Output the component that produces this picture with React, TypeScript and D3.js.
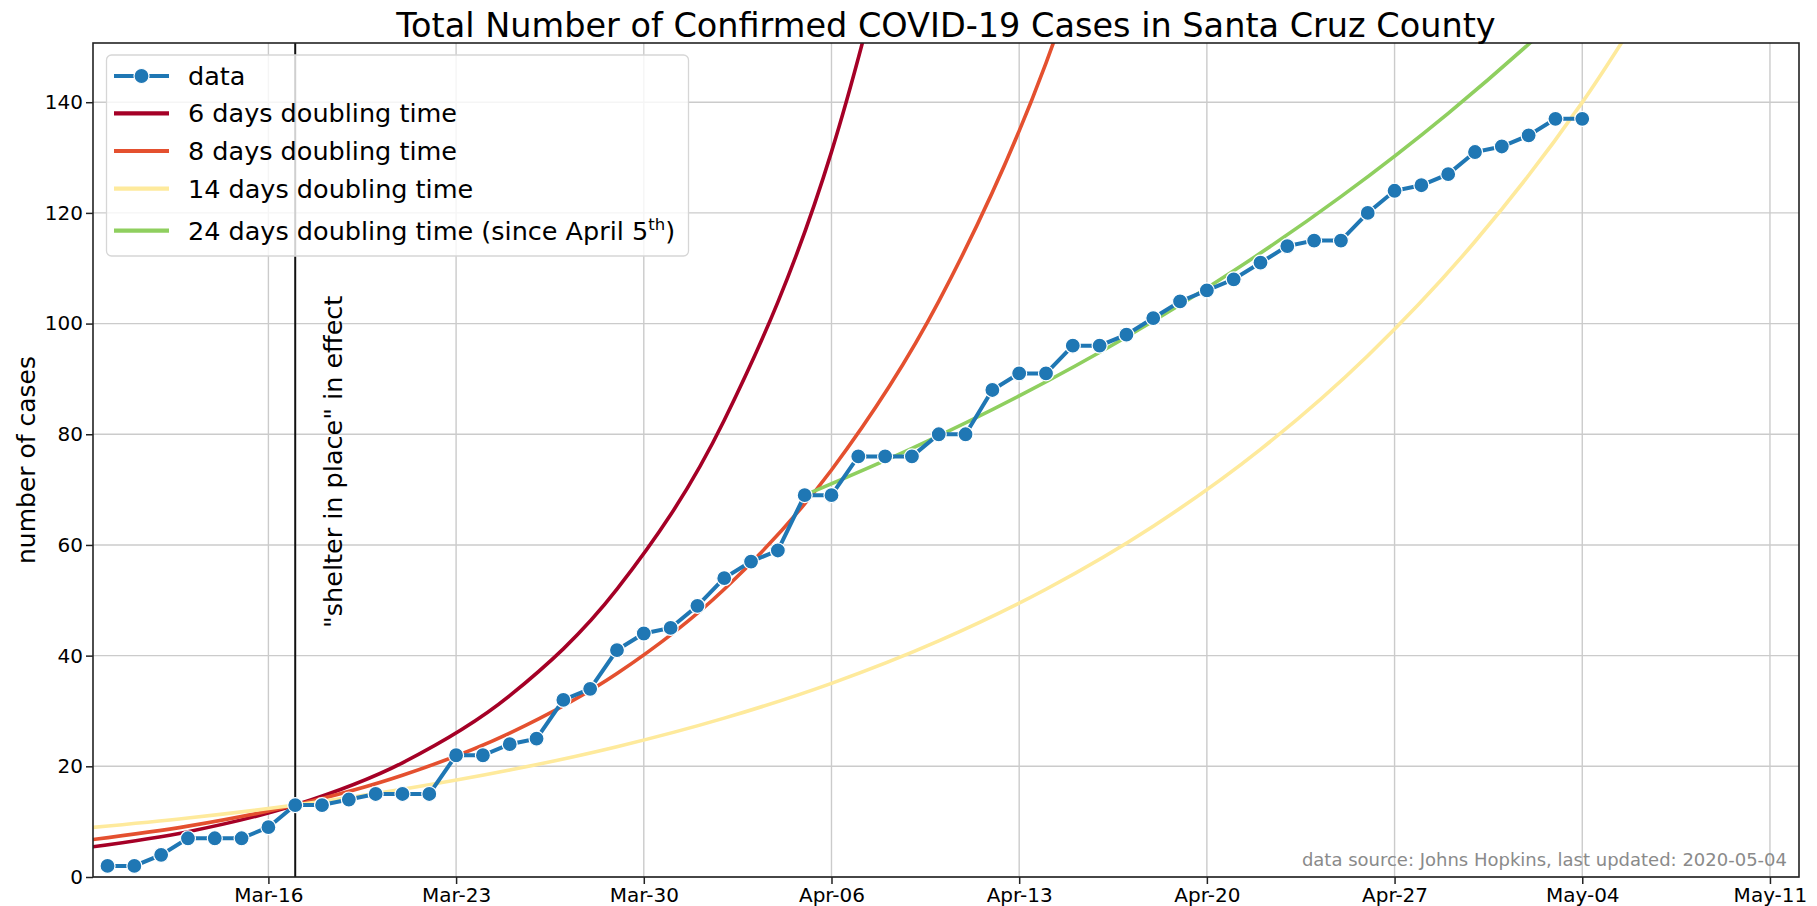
import React, { useEffect, useRef } from 'react';
import * as d3 from 'd3';

const parseDay = d3.utcParse('%Y-%m-%d');

// confirmed cases, one value per day from 2020-03-10 to 2020-05-04
const caseStart = '2020-03-10';
const cases = [
  2, 2, 4, 7, 7, 7, 9,
  13, 13, 14, 15, 15, 15, 22,
  22, 24, 25, 32, 34, 41, 44,
  45, 49, 54, 57, 59, 69, 69,
  76, 76, 76, 80, 80, 88, 91,
  91, 96, 96, 98, 101, 104, 106,
  108, 111, 114, 115, 115, 120, 124,
  125, 127, 131, 132, 134, 137, 137,
];

// doubling-time reference curves, every 4 days
const fitDates = [
  '2020-03-09', '2020-03-13', '2020-03-17', '2020-03-21', '2020-03-25', '2020-03-29',
  '2020-04-02', '2020-04-06', '2020-04-10', '2020-04-14', '2020-04-18', '2020-04-22',
  '2020-04-26', '2020-04-30', '2020-05-04', '2020-05-08',
];
const fit6 = [5.16, 8.19, 13, 20.64, 32.76, 52, 82.54, 131.03, 208];
const fit8 = [6.5, 9.19, 13, 18.38, 26, 36.77, 52, 73.54, 104, 147.08, 208];
const fit14 = [8.75, 10.66, 13, 15.85, 19.32, 23.55, 28.71, 34.99, 42.66, 52, 63.39, 77.27, 94.2, 114.83, 139.97, 170.6];

const fit24Dates = [
  '2020-04-05', '2020-04-09', '2020-04-13', '2020-04-17', '2020-04-21',
  '2020-04-25', '2020-04-29', '2020-05-03', '2020-05-07',
];
const fit24 = [69, 77.45, 86.93, 97.58, 109.53, 122.94, 138, 154.9, 173.87];

const legendLabels = ['data', '6 days doubling time', '8 days doubling time', '14 days doubling time', '24 days doubling time (since April 5'];
const colors = ['#1f77b4', '#a50026', '#e4502f', '#feea9c', '#8fcf5f'];

const shelterDate = '2020-03-17';
const xLimits = ['2020-03-09T11:00', '2020-05-12T02:00'];
const yTicks = [0, 20, 40, 60, 80, 100, 120, 140];
const yMax = 150.7;

export default function App() {
  const d3Container = useRef<HTMLDivElement>(null);

  useEffect(() => {
    if (!d3Container.current) return;
    const root = d3.select(d3Container.current);
    root.selectAll('*').remove();

    const width = 1817;
    const height = 906;
    const margin = { top: 43, right: 18, bottom: 29, left: 93 };
    const innerW = width - margin.left - margin.right;
    const innerH = height - margin.top - margin.bottom;
    const font = "'DejaVu Sans', sans-serif";

    const svg = root
      .append('svg')
      .attr('width', width)
      .attr('height', height)
      .style('position', 'absolute')
      .style('left', '0px')
      .style('top', '0px')
      .style('background', '#fff')
      .attr('font-family', font);

    svg
      .append('defs')
      .append('clipPath')
      .attr('id', 'plot-clip')
      .append('rect')
      .attr('width', innerW)
      .attr('height', innerH);

    const g = svg.append('g').attr('transform', `translate(${margin.left},${margin.top})`);

    const parseLim = d3.utcParse('%Y-%m-%dT%H:%M');
    const x = d3
      .scaleUtc()
      .domain(xLimits.map((d) => parseLim(d) as Date))
      .range([0, innerW]);
    const y = d3.scaleLinear().domain([0, yMax]).range([innerH, 0]);

    const xTicks = x.ticks(d3.utcMonday);

    // grid
    const grid = g.append('g').attr('stroke', '#cbcbcb').attr('stroke-width', 1.4);
    grid
      .selectAll('line.gx')
      .data(xTicks)
      .join('line')
      .attr('class', 'gx')
      .attr('x1', (d) => x(d))
      .attr('x2', (d) => x(d))
      .attr('y1', 0)
      .attr('y2', innerH);
    grid
      .selectAll('line.gy')
      .data(yTicks)
      .join('line')
      .attr('class', 'gy')
      .attr('x1', 0)
      .attr('x2', innerW)
      .attr('y1', (d) => y(d))
      .attr('y2', (d) => y(d));

    const plot = g.append('g').attr('clip-path', 'url(#plot-clip)');

    const line = d3
      .line<[Date, number]>()
      .x((d) => x(d[0]))
      .y((d) => y(d[1]))
      .curve(d3.curveMonotoneX);

    const fits: [string[], number[], string][] = [
      [fitDates, fit6, colors[1]],
      [fitDates, fit8, colors[2]],
      [fitDates, fit14, colors[3]],
      [fit24Dates, fit24, colors[4]],
    ];
    fits.forEach(([dates, vals, color]) => {
      const pts = vals.map((v, i) => [parseDay(dates[i]) as Date, v] as [Date, number]);
      plot
        .append('path')
        .datum(pts)
        .attr('fill', 'none')
        .attr('stroke', color)
        .attr('stroke-width', 3.6)
        .attr('d', line);
    });

    // shelter in place marker
    const sx = x(parseDay(shelterDate) as Date);
    plot
      .append('line')
      .attr('x1', sx)
      .attr('x2', sx)
      .attr('y1', 0)
      .attr('y2', innerH)
      .attr('stroke', '#111')
      .attr('stroke-width', 2);

    // data
    const start = parseDay(caseStart) as Date;
    const casePts = cases.map((v, i) => [d3.utcDay.offset(start, i), v] as [Date, number]);
    plot
      .append('path')
      .datum(casePts)
      .attr('fill', 'none')
      .attr('stroke', colors[0])
      .attr('stroke-width', 4)
      .attr(
        'd',
        d3
          .line<[Date, number]>()
          .x((d) => x(d[0]))
          .y((d) => y(d[1])),
      );
    plot
      .selectAll('circle.pt')
      .data(casePts)
      .join('circle')
      .attr('class', 'pt')
      .attr('cx', (d) => x(d[0]))
      .attr('cy', (d) => y(d[1]))
      .attr('r', 7.5)
      .attr('fill', colors[0])
      .attr('stroke', '#fff')
      .attr('stroke-width', 1.2);

    // annotation
    g.append('text')
      .attr('transform', `translate(${x(parseDay('2020-03-18') as Date) + 19.5},${y(45)}) rotate(-90)`)
      .attr('font-size', 25.5)
      .attr('fill', '#000')
      .text('"shelter in place" in effect');

    g.append('text')
      .attr('x', innerW - 12)
      .attr('y', innerH - 11)
      .attr('text-anchor', 'end')
      .attr('font-size', 18)
      .attr('fill', '#8a8a8a')
      .text('data source: Johns Hopkins, last updated: 2020-05-04');

    // axes
    const xAxis = g
      .append('g')
      .attr('transform', `translate(0,${innerH})`)
      .call(
        d3
          .axisBottom(x)
          .tickValues(xTicks)
          .tickFormat((d) => d3.utcFormat('%b-%d')(d as Date))
          .tickSize(7)
          .tickPadding(4),
      );
    const yAxis = g.append('g').call(d3.axisLeft(y).tickValues(yTicks).tickSize(7).tickPadding(3));
    [xAxis, yAxis].forEach((ax) => {
      ax.select('.domain').remove();
      ax.selectAll('line').attr('stroke', '#222').attr('stroke-width', 1.5);
      ax.selectAll('text').attr('font-size', 20).attr('font-family', font).attr('fill', '#000');
    });

    g.append('rect')
      .attr('width', innerW)
      .attr('height', innerH)
      .attr('fill', 'none')
      .attr('stroke', '#222')
      .attr('stroke-width', 1.6);

    // title and y label
    svg
      .append('text')
      .attr('x', margin.left + innerW / 2)
      .attr('y', 37)
      .attr('text-anchor', 'middle')
      .attr('font-size', 33.5)
      .attr('fill', '#000')
      .text('Total Number of Confirmed COVID-19 Cases in Santa Cruz County');

    svg
      .append('text')
      .attr('transform', `translate(35,${margin.top + innerH / 2}) rotate(-90)`)
      .attr('text-anchor', 'middle')
      .attr('font-size', 25)
      .attr('fill', '#000')
      .text('number of cases');

    // legend
    const legend = g.append('g').attr('transform', 'translate(13.5,12)');
    legend
      .append('rect')
      .attr('width', 582)
      .attr('height', 201)
      .attr('rx', 5)
      .attr('fill', '#fff')
      .attr('fill-opacity', 0.8)
      .attr('stroke', '#d6d6d6')
      .attr('stroke-width', 1.3);
    const rowY = [21, 58.3, 96, 133.7, 175.7];
    legendLabels.forEach((label, i) => {
      const row = legend.append('g').attr('transform', `translate(0,${rowY[i]})`);
      row
        .append('line')
        .attr('x1', 7.5)
        .attr('x2', 62.5)
        .attr('stroke', colors[i])
        .attr('stroke-width', i === 0 ? 4 : 4.2);
      if (i === 0) {
        row
          .append('circle')
          .attr('cx', 35)
          .attr('r', 7.5)
          .attr('fill', colors[0])
          .attr('stroke', '#fff')
          .attr('stroke-width', 1.2);
      }
      const t = row
        .append('text')
        .attr('x', 81.5)
        .attr('y', 9)
        .attr('font-size', 25.5)
        .attr('fill', '#000')
        .text(label);
      if (i === legendLabels.length - 1) {
        t.append('tspan').attr('font-size', 16.5).attr('dy', -9.5).text('th');
        t.append('tspan').attr('font-size', 25.5).attr('dy', 9.5).text(')');
      }
    });
  }, []);

  return <div ref={d3Container} />;
}
